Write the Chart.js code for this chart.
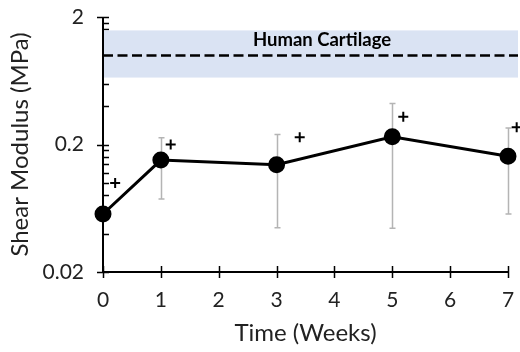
<!DOCTYPE html>
<html><head><meta charset="utf-8">
<script src="https://cdn.jsdelivr.net/npm/chart.js@4/dist/chart.umd.min.js"></script>
<style>html,body{margin:0;padding:0;background:#fff}</style>
</head><body>
<canvas id="c" width="520" height="352" style="width:520px;height:352px"></canvas>
<script>
const weeks=[0,1,3,5,7];
const modulus=[0.057,0.151,0.139,0.23,0.162];
const errLow=[null,0.0748,0.0445,0.044,0.057];
const errHigh=[null,0.226,0.24,0.42,0.27];
const plusX=[0.21,1.17,3.40,5.19,7.15];
const plusY=[0.10,0.20,0.228,0.33,0.273];
const yTicks=[0.02,0.2,2];
const yMinor=[0.04,0.06,0.08,0.1,0.12,0.14,0.16,0.18,0.4,0.6,0.8,1.0,1.2,1.4,1.6,1.8];
const xTicks=[0,1,2,3,4,5,6,7];
const cartilageMean=1.0, cartilageLow=0.67, cartilageHigh=1.57;
const cartilageLabel='Human Cartilage';
const FONT='Lato, "Open Sans", sans-serif';

const decor={
  id:'decor',
  beforeDatasetsDraw(chart){
    const {ctx,chartArea:a,scales:{x,y}}=chart;
    ctx.save();
    ctx.strokeStyle='#000';ctx.lineWidth=2;
    ctx.beginPath();
    ctx.moveTo(a.left,y.getPixelForValue(2));ctx.lineTo(a.left,y.getPixelForValue(0.02));
    ctx.moveTo(a.left,y.getPixelForValue(0.02));ctx.lineTo(x.getPixelForValue(7),y.getPixelForValue(0.02));
    ctx.stroke();
    ctx.lineWidth=1.5;
    ctx.beginPath();
    yTicks.forEach(v=>{const p=Math.round(y.getPixelForValue(v))+0.5;ctx.moveTo(a.left-6,p);ctx.lineTo(a.left+6,p);});
    yMinor.forEach(v=>{const p=Math.round(y.getPixelForValue(v))+0.5;ctx.moveTo(a.left,p);ctx.lineTo(a.left+6,p);});
    const yb=y.getPixelForValue(0.02);
    xTicks.forEach(v=>{const p=Math.round(x.getPixelForValue(v))+0.5;ctx.moveTo(p,yb-6);ctx.lineTo(p,yb+6);});
    ctx.stroke();
    const bt=y.getPixelForValue(cartilageHigh), bb=y.getPixelForValue(cartilageLow);
    ctx.fillStyle='#dae3f3';
    ctx.fillRect(a.left+1,bt,chart.width-2-(a.left+1),bb-bt);
    const ym=y.getPixelForValue(cartilageMean);
    ctx.setLineDash([10,4.5]);ctx.lineWidth=2.5;
    ctx.beginPath();ctx.moveTo(a.left,ym);ctx.lineTo(chart.width-2,ym);ctx.stroke();
    ctx.setLineDash([]);
    ctx.fillStyle='#000';ctx.font='bold 18.5px '+FONT;ctx.textAlign='center';ctx.textBaseline='middle';
    ctx.fillText(cartilageLabel,322,y.getPixelForValue(1.32));
    ctx.strokeStyle='#b4b4b4';ctx.lineWidth=1.5;
    ctx.beginPath();
    weeks.forEach((w,i)=>{
      if(errLow[i]==null)return;
      const px=Math.round(x.getPixelForValue(w))+0.5;
      const t=y.getPixelForValue(errHigh[i]), b=y.getPixelForValue(errLow[i]);
      ctx.moveTo(px,t);ctx.lineTo(px,b);
      ctx.moveTo(px-3,t);ctx.lineTo(px+3,t);
      ctx.moveTo(px-3,b);ctx.lineTo(px+3,b);
    });
    ctx.stroke();
    // significance plus marks
    ctx.strokeStyle='#000';ctx.lineWidth=2;
    ctx.beginPath();
    plusX.forEach((v,i)=>{
      const px=x.getPixelForValue(v), py=y.getPixelForValue(plusY[i]);
      ctx.moveTo(px-5,py);ctx.lineTo(px+5,py);
      ctx.moveTo(px,py-5);ctx.lineTo(px,py+5);
    });
    ctx.stroke();
    ctx.restore();
  }
};

new Chart(document.getElementById('c'),{
  type:'scatter',
  data:{datasets:[
    {data:weeks.map((w,i)=>({x:w,y:modulus[i]})),showLine:true,borderColor:'#000',backgroundColor:'#000',borderWidth:3,pointRadius:7,pointHoverRadius:7,clip:false}
  ]},
  options:{
    responsive:false,animation:false,
    plugins:{legend:{display:false},tooltip:{enabled:false}},
    layout:{padding:0},
    scales:{
      x:{type:'linear',min:0,max:7,bounds:'data',
        afterBuildTicks:s=>{s.ticks=xTicks.map(v=>({value:v}));},
        afterFit:s=>{s.height=80;s.paddingLeft=0;s.paddingRight=12;},
        grid:{display:false,drawTicks:false},border:{display:false},
        ticks:{font:{family:FONT,size:21},color:'#222',padding:16,maxRotation:0},
        title:{display:true,text:'Time (Weeks)',font:{family:FONT,size:24},color:'#222',padding:{top:0,bottom:4}}
      },
      y:{type:'logarithmic',min:0.02,max:2,bounds:'data',
        afterBuildTicks:s=>{s.ticks=yTicks.map(v=>({value:v}));},
        afterFit:s=>{s.width=103;s.paddingTop=17;s.paddingBottom=0;},
        grid:{display:false,drawTicks:false},border:{display:false},
        ticks:{font:{family:FONT,size:21},color:'#222',padding:19,callback:v=>String(v)},
        title:{display:true,text:'Shear Modulus (MPa)',font:{family:FONT,size:24},color:'#222',padding:{top:6,bottom:0}}
      }
    }
  },
  plugins:[decor]
});
</script></body></html>
